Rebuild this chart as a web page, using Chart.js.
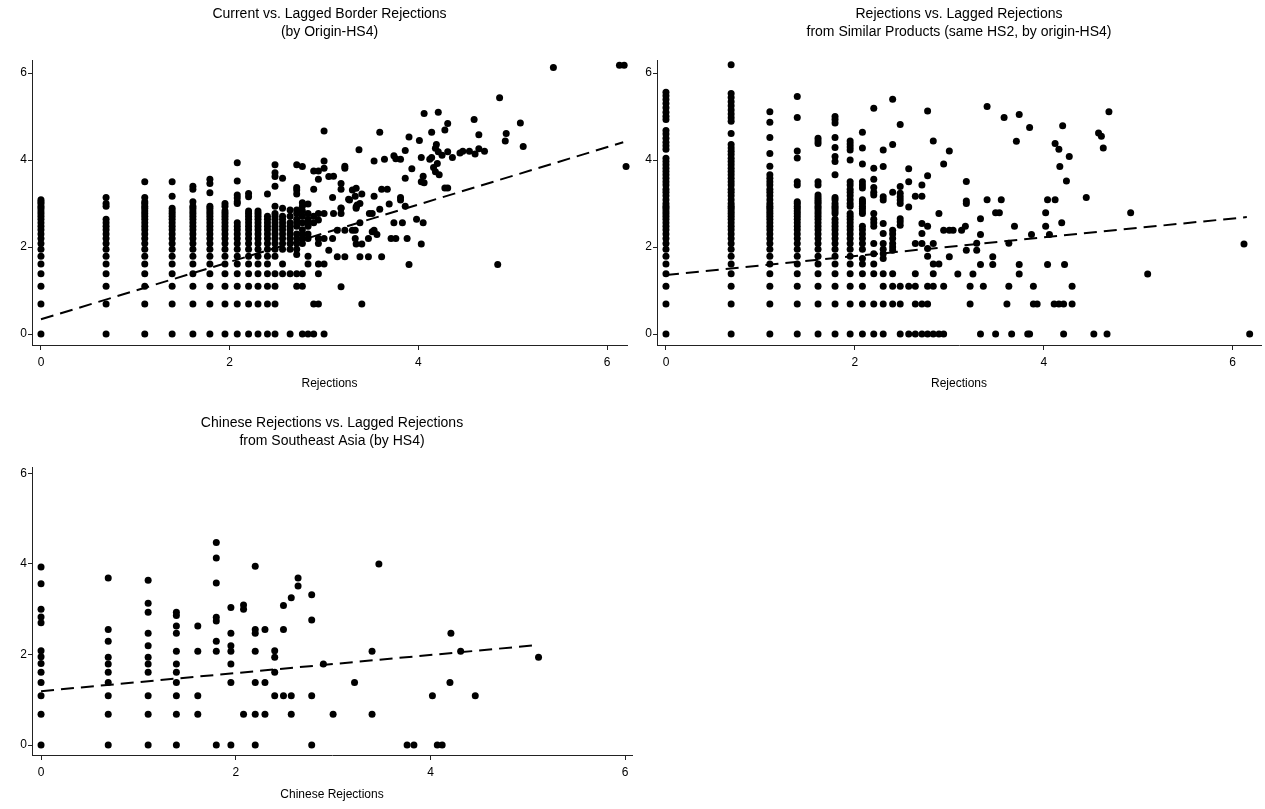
<!DOCTYPE html>
<html>
<head>
<meta charset="utf-8">
<script src="https://cdn.jsdelivr.net/npm/chart.js@4.4.1/dist/chart.umd.min.js"></script>
<style>
  html, body { margin: 0; padding: 0; background: #fff; overflow: hidden; }
  .panel { position: absolute; }
</style>
</head>
<body>
<div class="panel" style="left:0;top:0;width:640px;height:400px"><canvas id="c1"></canvas></div>
<div class="panel" style="left:625px;top:0;width:640px;height:400px"><canvas id="c2"></canvas></div>
<div class="panel" style="left:0;top:405px;width:640px;height:404px"><canvas id="c3"></canvas></div>
<script>
// tick labels shared by all panels
const tickValues = [0, 2, 4, 6];

// ---- panel 1: current vs lagged (origin-HS4) ----
const borderCols = [0, 0.69, 1.1, 1.39, 1.61, 1.79, 1.95, 2.08, 2.2, 2.3, 2.4, 2.48, 2.56, 2.64, 2.71, 2.77, 2.83, 2.89, 2.94, 3.0];
const borderColY = [
  [0, .69, 1.1, 1.39, 1.61, 1.79, 1.95, 2.08, 2.2, 2.3, 2.4, 2.48, 2.56, 2.64, 2.71, 2.77, 2.83, 2.89, 2.94, 3.0, 3.04, 3.09],
  [0, .69, 1.1, 1.39, 1.61, 1.79, 1.95, 2.08, 2.2, 2.3, 2.4, 2.48, 2.56, 2.64, 2.94, 3.0, 3.14],
  [0, .69, 1.1, 1.39, 1.61, 1.79, 1.95, 2.08, 2.2, 2.3, 2.4, 2.48, 2.56, 2.64, 2.71, 2.77, 2.83, 2.89, 2.94, 3.0, 3.04, 3.14, 3.5],
  [0, .69, 1.1, 1.39, 1.61, 1.79, 1.95, 2.08, 2.2, 2.3, 2.4, 2.48, 2.56, 2.64, 2.71, 2.77, 2.83, 2.89, 3.17, 3.5],
  [0, .69, 1.1, 1.39, 1.61, 1.79, 1.95, 2.08, 2.2, 2.3, 2.4, 2.48, 2.56, 2.64, 2.71, 2.77, 2.83, 2.89, 2.94, 3.04, 3.33, 3.4],
  [0, .69, 1.1, 1.39, 1.61, 1.79, 1.95, 2.08, 2.2, 2.3, 2.4, 2.48, 2.56, 2.64, 2.71, 2.77, 2.83, 2.89, 2.94, 3.25, 3.46, 3.56],
  [0, .69, 1.1, 1.39, 1.61, 1.79, 1.95, 2.08, 2.2, 2.3, 2.4, 2.48, 2.56, 2.64, 2.71, 2.77, 2.83, 2.94, 3.0],
  [0, .69, 1.1, 1.39, 1.61, 1.79, 1.95, 2.08, 2.2, 2.3, 2.4, 2.48, 2.56, 3.0, 3.04, 3.13, 3.2, 3.52, 3.94],
  [0, .69, 1.1, 1.39, 1.61, 1.79, 1.95, 2.08, 2.2, 2.3, 2.4, 2.48, 2.56, 2.64, 2.71, 2.77, 2.83, 3.16, 3.23],
  [0, .69, 1.1, 1.39, 1.61, 1.79, 1.95, 2.08, 2.2, 2.3, 2.4, 2.48, 2.56, 2.64, 2.71, 2.77, 2.83],
  [0, .69, 1.1, 1.39, 1.61, 1.79, 1.95, 2.08, 2.2, 2.3, 2.4, 2.48, 2.56, 2.64, 2.71, 3.22],
  [0, .69, 1.1, 1.39, 1.79, 1.95, 2.08, 2.2, 2.3, 2.4, 2.48, 2.56, 2.64, 2.71, 2.77, 2.94, 3.4, 3.62, 3.71, 3.89],
  [1.39, 1.61, 1.95, 2.08, 2.2, 2.3, 2.4, 2.48, 2.56, 2.64, 2.71, 2.89, 3.58],
  [0, 1.39, 1.95, 2.08, 2.2, 2.3, 2.4, 2.48, 2.56, 2.71, 2.85],
  [1.1, 1.39, 1.83, 1.95, 2.08, 2.2, 2.3, 2.48, 2.56, 2.64, 2.77, 2.85, 3.22, 3.31, 3.37, 3.89],
  [0, 1.1, 1.39, 2.08, 2.2, 2.3, 2.4, 2.56, 2.71, 2.83, 2.94, 3.02, 3.85],
  [0, 1.61, 1.79, 2.2, 2.3, 2.48, 2.56, 2.64, 2.77, 2.99],
  [0, .69, 2.56, 2.71, 3.33, 3.75],
  [.69, 1.39, 1.61, 2.08, 2.2, 2.62, 2.77, 3.56, 3.75],
  [0, 1.61, 2.2, 2.77, 3.81, 3.98, 4.67]
];
const borderExtra = [
  [5.43, 6.13], [6.13, 6.18], [6.18, 6.18], [4.86, 5.43], [4.06, 5.07], [4.21, 5.1], [4.31, 4.84], [4.28, 4.69],
  [4.14, 4.64], [4.59, 4.93], [4.64, 4.58], [5.08, 4.85], [4.93, 4.61], [4.92, 4.44], [5.11, 4.31], [3.59, 4.64],
  [3.9, 4.53], [4.01, 4.45], [3.37, 4.24], [3.86, 4.22], [4.19, 4.36], [4.18, 4.27], [4.21, 4.19], [4.25, 4.11],
  [4.31, 4.19], [4.44, 4.16], [4.47, 4.2], [4.54, 4.2], [4.6, 4.14], [4.64, 4.26], [4.7, 4.2], [4.36, 4.06],
  [3.53, 3.98], [3.64, 4.02], [3.74, 4.1], [3.76, 4.03], [3.81, 4.02], [4.03, 4.06], [4.12, 4.02], [4.14, 4.06],
  [4.2, 3.92], [3.93, 3.8], [4.16, 3.83], [4.18, 3.73], [4.22, 3.66], [4.05, 3.63], [4.03, 3.5], [4.06, 3.48],
  [3.86, 3.58], [4.28, 3.36], [4.31, 3.36], [3.22, 3.86], [3.22, 3.81], [3.05, 3.62], [3.1, 3.63], [3.18, 3.46],
  [3.18, 3.33], [3.3, 3.31], [3.34, 3.35], [3.33, 3.17], [3.4, 3.22], [3.09, 3.14], [3.26, 3.1], [3.38, 3.0],
  [3.53, 3.17], [3.61, 3.33], [3.67, 3.33], [3.69, 2.99], [3.81, 3.14], [3.81, 3.08], [3.86, 2.94], [3.18, 2.9],
  [3.34, 2.93], [3.59, 2.87], [3.18, 2.77], [3.1, 2.77], [3.34, 2.89], [3.48, 2.77], [3.51, 2.77], [3.74, 2.56],
  [3.83, 2.56], [3.98, 2.64], [4.05, 2.56], [4.03, 2.07], [3.09, 2.2], [3.14, 2.39], [3.22, 2.39], [3.3, 2.39],
  [3.33, 2.39], [3.38, 2.56], [3.33, 2.2], [3.34, 2.07], [3.4, 2.07], [3.47, 2.2], [3.51, 2.35], [3.53, 2.39],
  [3.56, 2.29], [3.71, 2.2], [3.76, 2.2], [3.88, 2.2], [3.05, 1.93], [3.14, 1.78], [3.22, 1.78], [3.38, 1.78],
  [3.47, 1.78], [3.61, 1.78], [3.9, 1.6], [4.84, 1.6], [3.18, 1.09], [3.4, 0.69], [6.2, 3.85], [3.27, 3.08],
  [3.35, 2.97], [3.18, 2.89]
];
const borderFitX = [0, 6.17];
const borderFitY = [0.34, 4.41];

// ---- panel 2: lagged rejections of similar products ----
const similarCols = [0, 0.69, 1.1, 1.39, 1.61, 1.79, 1.95, 2.08, 2.2, 2.3, 2.4, 2.48, 2.57, 2.64, 2.71, 2.77, 2.83, 2.89, 2.94, 3.0];
const similarColY = [
  [0, .69, 1.1, 1.39, 1.61, 1.79, 1.95, 2.08, 2.2, 2.3, 2.4, 2.48, 2.56, 2.64, 2.71, 2.77, 2.83, 2.89, 2.94, 3.0, 3.09, 3.18, 3.26, 3.33, 3.43, 3.5, 3.58, 3.66, 3.74, 3.81, 3.89, 3.97, 4.04, 4.25, 4.33, 4.41, 4.5, 4.6, 4.68, 4.93, 5.01, 5.1, 5.2, 5.3, 5.39, 5.48, 5.56],
  [0, .69, 1.1, 1.39, 1.61, 1.79, 1.95, 2.08, 2.2, 2.3, 2.4, 2.48, 2.56, 2.64, 2.71, 2.77, 2.83, 2.89, 2.94, 3.0, 3.09, 3.18, 3.26, 3.33, 3.43, 3.5, 3.58, 3.66, 3.74, 3.81, 3.89, 3.97, 4.04, 4.13, 4.2, 4.28, 4.36, 4.61, 4.89, 4.97, 5.06, 5.15, 5.25, 5.34, 5.44, 5.53, 6.19],
  [0, .69, 1.1, 1.39, 1.61, 1.79, 1.95, 2.08, 2.2, 2.3, 2.4, 2.48, 2.56, 2.64, 2.71, 2.77, 2.83, 2.89, 2.94, 3.0, 3.09, 3.18, 3.26, 3.33, 3.43, 3.5, 3.58, 3.66, 3.86, 4.15, 4.52, 4.87, 5.11],
  [0, .69, 1.1, 1.39, 1.61, 1.79, 1.95, 2.08, 2.2, 2.3, 2.4, 2.48, 2.56, 2.64, 2.71, 2.77, 2.83, 2.89, 2.94, 3.0, 3.04, 3.43, 3.5, 4.05, 4.21, 4.98, 5.46],
  [0, .69, 1.1, 1.39, 1.61, 1.79, 1.95, 2.08, 2.2, 2.3, 2.4, 2.48, 2.56, 2.64, 2.71, 2.77, 2.83, 2.89, 2.94, 3.0, 3.04, 3.09, 3.14, 3.2, 3.43, 3.5, 4.38, 4.44, 4.5],
  [0, .69, 1.1, 1.39, 1.61, 1.79, 1.95, 2.08, 2.2, 2.3, 2.4, 2.48, 2.56, 2.64, 2.77, 2.83, 2.89, 2.94, 3.0, 3.09, 3.14, 3.66, 3.97, 4.08, 4.29, 4.52, 4.85, 4.93, 5.0],
  [0, .69, 1.1, 1.39, 1.61, 1.79, 1.95, 2.08, 2.2, 2.3, 2.4, 2.48, 2.56, 2.64, 2.71, 2.77, 2.94, 3.0, 3.09, 3.18, 3.26, 3.33, 3.43, 3.5, 4.0, 4.23, 4.3, 4.37, 4.44],
  [0, .69, 1.1, 1.39, 1.61, 1.74, 1.95, 2.08, 2.2, 2.3, 2.4, 2.48, 2.77, 2.83, 2.89, 2.94, 3.0, 3.04, 3.09, 3.36, 3.43, 3.5, 3.91, 4.28, 4.64],
  [0, .69, 1.39, 1.61, 1.85, 2.08, 2.48, 2.56, 2.64, 2.77, 3.2, 3.26, 3.37, 3.56, 3.81, 5.19],
  [0, .69, 1.1, 1.39, 1.74, 1.85, 1.95, 2.08, 2.31, 2.54, 3.08, 3.16, 3.85, 4.23],
  [.69, 1.1, 1.39, 1.93, 2.0, 2.08, 2.2, 2.3, 2.39, 3.26, 4.36, 5.4],
  [0, .69, 1.1, 2.5, 2.58, 2.65, 3.0, 3.08, 3.16, 3.24, 3.39, 4.82],
  [0, 1.1, 2.92, 3.5, 3.8],
  [0, .69, 1.1, 1.39, 2.08, 3.17],
  [0, .69, 2.08, 2.31, 2.54, 3.17, 3.43],
  [0, .69, 1.1, 1.79, 1.97, 2.48, 3.64, 5.13],
  [0, 1.1, 1.39, 1.61, 2.08, 4.44],
  [0, 1.61, 2.77],
  [0, 1.1, 2.39, 3.91],
  [1.78, 2.39, 4.21]
];
const similarExtra = [
  [3.4, 5.23], [3.58, 4.98], [3.74, 5.05], [3.85, 4.75], [3.71, 4.43], [4.2, 4.79], [4.12, 4.38], [4.16, 4.25],
  [4.27, 4.08], [4.17, 3.85], [4.24, 3.52], [4.58, 4.62], [4.61, 4.55], [4.63, 4.28], [4.69, 5.11], [3.18, 3.51],
  [3.18, 3.06], [3.18, 3.0], [3.4, 3.09], [3.55, 3.09], [4.04, 3.09], [4.12, 3.09], [4.45, 3.14], [3.49, 2.79],
  [3.53, 2.79], [4.02, 2.79], [4.92, 2.79], [3.33, 2.65], [3.04, 2.39], [3.13, 2.39], [3.17, 2.48], [3.69, 2.48],
  [4.02, 2.48], [4.19, 2.56], [3.33, 2.29], [3.87, 2.29], [4.06, 2.29], [3.29, 2.09], [3.29, 1.93], [3.18, 1.93],
  [3.63, 2.09], [3.46, 1.78], [3.46, 1.6], [3.33, 1.6], [3.74, 1.6], [3.74, 1.38], [4.04, 1.6], [4.22, 1.6],
  [3.09, 1.38], [3.25, 1.38], [5.1, 1.38], [6.12, 2.07], [3.22, 1.1], [3.36, 1.1], [3.63, 1.1], [3.89, 1.1],
  [4.3, 1.1], [3.22, 0.69], [3.61, 0.69], [3.89, 0.69], [3.93, 0.69], [4.11, 0.69], [4.16, 0.69], [4.21, 0.69],
  [4.3, 0.69], [3.33, 0], [3.49, 0], [3.66, 0], [3.83, 0], [3.85, 0], [4.21, 0], [4.53, 0], [4.67, 0], [6.18, 0]
];
const similarFitX = [0, 6.15];
const similarFitY = [1.36, 2.69];

// ---- panel 3: China vs lagged Southeast Asia ----
const chinaCols = [0, 0.69, 1.1, 1.39, 1.61, 1.8, 1.95, 2.08, 2.2, 2.3, 2.4, 2.49, 2.57, 2.64, 2.78];
const chinaColY = [
  [0, .68, 1.09, 1.38, 1.61, 1.8, 1.95, 2.08, 2.7, 2.83, 3.0, 3.56, 3.93],
  [0, .68, 1.09, 1.38, 1.61, 1.79, 1.94, 2.29, 2.55, 3.69],
  [0, .68, 1.09, 1.61, 1.79, 1.94, 2.19, 2.47, 2.93, 3.13, 3.64],
  [0, .68, 1.09, 1.38, 1.61, 1.79, 2.07, 2.47, 2.63, 2.86, 2.93],
  [.68, 1.09, 2.07, 2.63],
  [0, 2.07, 2.29, 2.74, 2.82, 3.58, 4.13, 4.47],
  [0, 1.38, 1.79, 2.07, 2.19, 2.47, 3.04],
  [.68, 3.0, 3.09],
  [0, .68, 1.38, 2.07, 2.47, 2.55, 3.95],
  [.68, 1.38, 2.55],
  [1.09, 1.61, 1.94, 2.08],
  [1.09, 2.55, 3.08],
  [.68, 1.09, 3.25],
  [3.51, 3.69],
  [0, 1.09, 2.76, 3.32]
];
const chinaExtra = [
  [2.9, 1.79], [3.0, 0.68], [3.22, 1.38], [3.4, 2.07], [3.4, 0.68], [3.47, 4.0], [3.76, 0], [3.83, 0],
  [4.07, 0], [4.12, 0], [4.02, 1.09], [4.2, 1.38], [4.21, 2.47], [4.31, 2.07], [4.46, 1.09], [5.11, 1.94]
];
const chinaFitX = [0, 5.11];
const chinaFitY = [1.19, 2.21];

const FONT = "'Liberation Sans', Arial, Helvetica, sans-serif";
const INK = '#000';
const AXIS = '#222';

function toPoints(cols, colY, extra) {
  const pts = [];
  cols.forEach((x, i) => colY[i].forEach(y => pts.push({ x: x, y: y })));
  extra.forEach(p => pts.push({ x: p[0], y: p[1] }));
  return pts;
}

function makeChart(id, cfg) {
  const ctx = document.getElementById(id).getContext('2d');
  return new Chart(ctx, {
    type: 'scatter',
    data: {
      datasets: [
        {
          type: 'line',
          data: cfg.fitX.map((x, i) => ({ x: x, y: cfg.fitY[i] })),
          showLine: true,
          borderColor: INK,
          borderWidth: 2,
          borderDash: [13, 7],
          pointRadius: 0,
          fill: false
        },
        {
          data: cfg.points,
          pointRadius: 3.5,
          pointHoverRadius: 3.5,
          pointBackgroundColor: INK,
          pointBorderWidth: 0,
          clip: false
        }
      ]
    },
    options: {
      responsive: true,
      maintainAspectRatio: false,
      animation: false,
      events: [],
      layout: { padding: { left: 0, right: cfg.padRight, top: 0, bottom: 0 } },
      plugins: {
        legend: { display: false },
        tooltip: { enabled: false },
        title: {
          display: true,
          fullSize: false,
          text: cfg.title,
          color: INK,
          font: { family: FONT, size: 14, weight: 'normal', lineHeight: 1.3 },
          padding: { top: cfg.titleTop, bottom: cfg.titleBottom }
        }
      },
      scales: {
        x: {
          type: 'linear',
          min: cfg.xMin,
          max: cfg.xMax,
          afterBuildTicks: s => { s.ticks = tickValues.map(v => ({ value: v })); },
          afterFit: s => { s.height = cfg.xHeight; },
          grid: { drawOnChartArea: false, drawTicks: true, tickLength: 5, tickColor: AXIS },
          border: { display: true, color: AXIS, width: 1 },
          ticks: { color: INK, font: { family: FONT, size: 12 }, padding: 5, maxRotation: 0 },
          title: {
            display: true,
            text: cfg.xTitle,
            color: INK,
            font: { family: FONT, size: 12 },
            padding: { top: 0, bottom: cfg.xTitleBottom }
          }
        },
        y: {
          type: 'linear',
          min: cfg.yMin,
          max: cfg.yMax,
          afterBuildTicks: s => { s.ticks = tickValues.map(v => ({ value: v })); },
          afterFit: s => { s.width = 32; },
          grid: { drawOnChartArea: false, drawTicks: true, tickLength: 4, tickColor: AXIS },
          border: { display: true, color: AXIS, width: 1 },
          ticks: { color: INK, font: { family: FONT, size: 12 }, padding: 1 }
        }
      }
    }
  });
}

makeChart('c1', {
  points: toPoints(borderCols, borderColY, borderExtra),
  fitX: borderFitX, fitY: borderFitY,
  title: ['Current vs. Lagged Border Rejections', '(by Origin-HS4)'],
  xTitle: 'Rejections',
  xMin: -0.095, xMax: 6.21, yMin: -0.25, yMax: 6.3,
  padRight: 13, titleTop: 5, titleBottom: 18.6, xHeight: 55, xTitleBottom: 8.8
});

makeChart('c2', {
  points: toPoints(similarCols, similarColY, similarExtra),
  fitX: similarFitX, fitY: similarFitY,
  title: ['Rejections vs. Lagged Rejections', 'from Similar Products (same HS2, by origin-HS4)'],
  xTitle: 'Rejections',
  xMin: -0.095, xMax: 6.3, yMin: -0.25, yMax: 6.3,
  padRight: 4, titleTop: 5, titleBottom: 18.6, xHeight: 55, xTitleBottom: 8.8
});

makeChart('c3', {
  points: toPoints(chinaCols, chinaColY, chinaExtra),
  fitX: chinaFitX, fitY: chinaFitY,
  title: ['Chinese Rejections vs. Lagged Rejections', 'from Southeast Asia (by HS4)'],
  xTitle: 'Chinese Rejections',
  xMin: -0.093, xMax: 6.07, yMin: -0.22, yMax: 6.14,
  padRight: 8, titleTop: 8.9, titleBottom: 16.7, xHeight: 54, xTitleBottom: 6.8
});
</script>
</body>
</html>
